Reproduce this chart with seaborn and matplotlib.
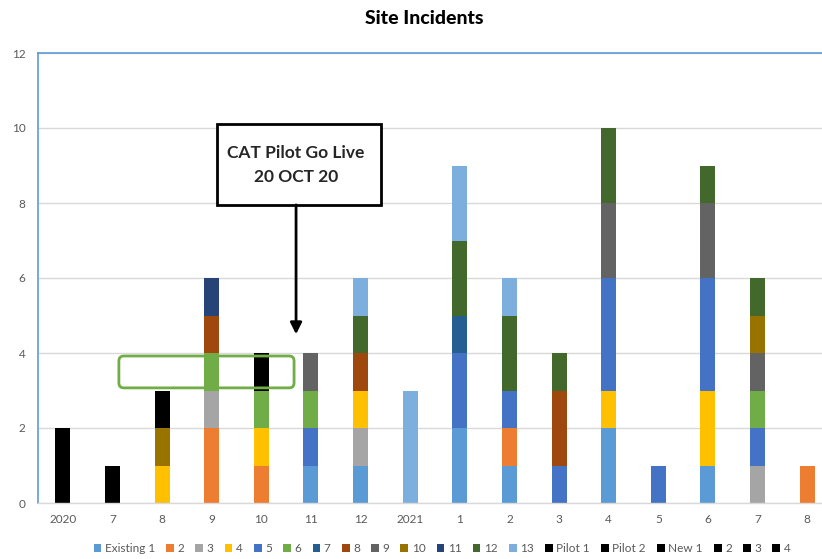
"""
Site Incidents - stacked bar chart per mese
"""

import matplotlib
matplotlib.use("Agg")
import matplotlib.pyplot as plt
from matplotlib.patches import Patch, Rectangle, FancyBboxPatch
import pandas as pd
import seaborn as sns

# ------------------------------------------------------------------
# Dati
# ------------------------------------------------------------------
categories = ["2020", "7", "8", "9", "10", "11", "12", "2021",
              "1", "2", "3", "4", "5", "6", "7", "8"]

series_names = ["Existing 1", "2", "3", "4", "5", "6", "7", "8", "9", "10",
                "11", "12", "13", "Pilot 1", "Pilot 2", "New 1", "2 ", "3 ", "4 "]

existing_1 = [0, 0, 0, 0, 0, 1, 1, 0, 2, 1, 0, 2, 0, 1, 0, 0]
s2 = [0, 0, 0, 2, 1, 0, 0, 0, 0, 1, 0, 0, 0, 0, 0, 1]
s3 = [0, 0, 0, 1, 0, 0, 1, 0, 0, 0, 0, 0, 0, 0, 1, 0]
s4 = [0, 0, 1, 0, 1, 0, 1, 0, 0, 0, 0, 1, 0, 2, 0, 0]
s5 = [0, 0, 0, 0, 0, 1, 0, 0, 2, 1, 1, 3, 1, 3, 1, 0]
s6 = [0, 0, 0, 1, 1, 1, 0, 0, 0, 0, 0, 0, 0, 0, 1, 0]
s7 = [0, 0, 0, 0, 0, 0, 0, 0, 1, 0, 0, 0, 0, 0, 0, 0]
s8 = [0, 0, 0, 1, 0, 0, 1, 0, 0, 0, 2, 0, 0, 0, 0, 0]
s9 = [0, 0, 0, 0, 0, 1, 0, 0, 0, 0, 0, 2, 0, 2, 1, 0]
s10 = [0, 0, 1, 0, 0, 0, 0, 0, 0, 0, 0, 0, 0, 0, 1, 0]
s11 = [0, 0, 0, 1, 0, 0, 0, 0, 0, 0, 0, 0, 0, 0, 0, 0]
s12 = [0, 0, 0, 0, 0, 0, 1, 0, 2, 2, 1, 2, 0, 1, 1, 0]
s13 = [0, 0, 0, 0, 0, 0, 1, 3, 2, 1, 0, 0, 0, 0, 0, 0]
pilot_1 = [2, 1, 0, 0, 0, 0, 0, 0, 0, 0, 0, 0, 0, 0, 0, 0]
pilot_2 = [0, 0, 1, 0, 0, 0, 0, 0, 0, 0, 0, 0, 0, 0, 0, 0]
new_1 = [0, 0, 0, 0, 1, 0, 0, 0, 0, 0, 0, 0, 0, 0, 0, 0]
new_2 = [0] * 16
new_3 = [0] * 16
new_4 = [0] * 16

series_values = [existing_1, s2, s3, s4, s5, s6, s7, s8, s9, s10, s11, s12,
                 s13, pilot_1, pilot_2, new_1, new_2, new_3, new_4]

colors = ["#5B9BD5", "#ED7D31", "#A5A5A5", "#FFC000", "#4472C4", "#70AD47",
          "#255E91", "#9E480E", "#636363", "#997300", "#264478", "#43682B",
          "#7CAFDD", "#000000", "#000000", "#000000", "#000000", "#000000",
          "#000000"]

# formato long per seaborn
rows = []
for name, vals in zip(series_names, series_values):
    for pos, v in enumerate(vals):
        rows.append({"pos": pos, "serie": name, "count": v})
df = pd.DataFrame(rows)

# ------------------------------------------------------------------
# Grafico
# ------------------------------------------------------------------
sns.set_style("white")
plt.rcParams["font.family"] = ["Lato", "DejaVu Sans"]

fig = plt.figure(figsize=(8.22, 5.59), dpi=100)
ax = fig.add_axes([38 / 822, 56 / 559, (832 - 38) / 822, 450 / 559])

palette = dict(zip(series_names, colors))
# histplot impila l'ultimo livello in basso: ordine invertito
sns.histplot(data=df, x="pos", weights="count", hue="serie",
             hue_order=series_names[::-1], palette=palette,
             multiple="stack", discrete=True, shrink=0.3,
             alpha=1, linewidth=0, legend=False, ax=ax, zorder=2)

ax.set_xlim(-0.5, 15.5)
ax.set_ylim(0, 12)
ax.set_yticks(range(0, 13, 2))
ax.set_xticks(range(len(categories)))
ax.set_xticklabels(categories)
ax.set_xlabel("")
ax.set_ylabel("")
ax.yaxis.grid(True, color="#D9D9D9", linewidth=1, zorder=0)
ax.set_axisbelow(True)
ax.tick_params(axis="both", length=0, labelsize=8.5, colors="#595959")
ax.tick_params(axis="y", pad=9)
ax.tick_params(axis="x", pad=8)

for side in ["left", "top", "right"]:
    ax.spines[side].set_color("#5B9BD5")
    ax.spines[side].set_linewidth(1.2)
ax.spines["bottom"].set_color("#D9D9D9")
ax.spines["bottom"].set_linewidth(1)

fig.text(424 / 822, 1 - 18 / 559, "Site Incidents", ha="center", va="center",
         fontsize=14, fontweight="black", color="#000000")

# callout "CAT Pilot Go Live"
ax.add_patch(Rectangle((3.11, 7.95), 3.31, 2.15, facecolor="white",
                       edgecolor="black", linewidth=2, zorder=4))
ax.text(4.70, 9.02, "CAT Pilot Go Live\n20 OCT 20", ha="center", va="center",
        fontsize=12.5, fontweight="bold", linespacing=1.6, zorder=5)
ax.annotate("", xy=(4.70, 4.5), xytext=(4.70, 7.95),
            arrowprops=dict(arrowstyle="-|>", color="black", lw=2,
                            mutation_scale=17, shrinkA=0, shrinkB=0),
            zorder=4)

# riquadro verde arrotondato
ax.add_patch(FancyBboxPatch((1.13, 3.07), 3.53, 0.85,
                            boxstyle="round,pad=0,rounding_size=0.1",
                            mutation_aspect=1.33, facecolor="none",
                            edgecolor="#70AD47", linewidth=2, zorder=3))

# legenda
handles = [Patch(facecolor=c, edgecolor="none") for c in colors]
fig.legend(handles, [n.strip() for n in series_names], loc="center",
           bbox_to_anchor=(442 / 822, 1 - 549 / 559), ncol=len(series_names),
           frameon=False, fontsize=8.5, handlelength=0.65, handleheight=0.65,
           handletextpad=0.3, columnspacing=0.95, labelcolor="#595959")

plt.savefig("out.png", dpi=100)
plt.close()
